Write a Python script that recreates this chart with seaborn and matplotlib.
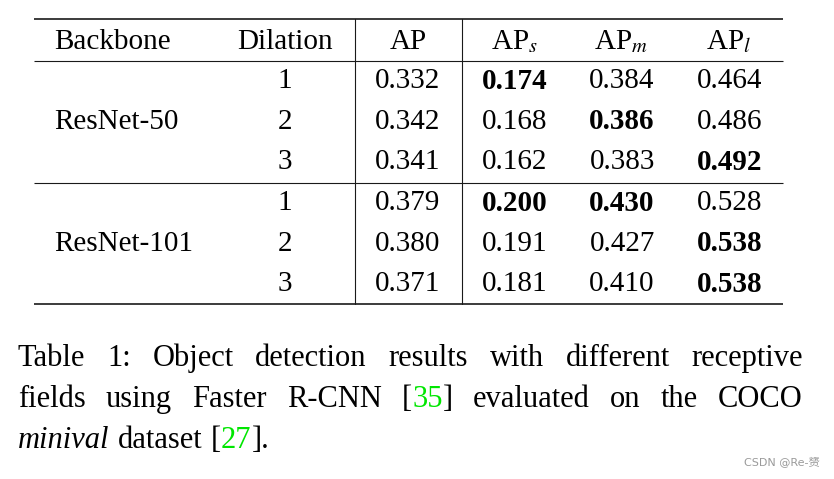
import numpy as np
import pandas as pd
import matplotlib
matplotlib.use("Agg")
import matplotlib.pyplot as plt
from matplotlib.colors import ListedColormap
import seaborn as sns

# ---- data ----
backbones = ["ResNet-50", "ResNet-101"]
dilations = [1, 2, 3]
columns = ["AP", "AP$_s$", "AP$_m$", "AP$_l$"]
r50_values = [[0.332, 0.174, 0.384, 0.464],
              [0.342, 0.168, 0.386, 0.486],
              [0.341, 0.162, 0.383, 0.492]]
r101_values = [[0.379, 0.200, 0.430, 0.528],
               [0.380, 0.191, 0.427, 0.538],
               [0.371, 0.181, 0.410, 0.538]]
bold_cells = [[0, 1, 0, 0],
              [0, 0, 1, 0],
              [0, 0, 0, 1],
              [0, 1, 1, 0],
              [0, 0, 0, 1],
              [0, 0, 0, 1]]
caption_lines = [
    [[("Table", "n")], [("1:", "n")], [("Object", "n")], [("detection", "n")], [("results", "n")],
     [("with", "n")], [("different", "n")], [("receptive", "n")]],
    [[("fields", "n")], [("using", "n")], [("Faster", "n")], [("R-CNN", "n")],
     [("[", "n"), ("35", "g"), ("]", "n")], [("evaluated", "n")], [("on", "n")], [("the", "n")], [("COCO", "n")]],
    [[("minival", "i")], [("dataset", "n")], [("[", "n"), ("27", "g"), ("].", "n")]],
]
watermark = "CSDN @Re-赟"

sns.set_theme(style="white")
plt.rcParams["font.family"] = ["Liberation Serif", "DejaVu Serif"]
plt.rcParams["mathtext.fontset"] = "stix"
plt.rcParams["text.color"] = "black"

W, H = 834, 479
fig = plt.figure(figsize=(W / 100, H / 100), dpi=100)
fig.patch.set_facecolor("white")

FS = 21
df = pd.DataFrame(r50_values + r101_values, columns=columns)

# numeric block via seaborn heatmap
x0, x1 = 354, 783
y0, y1 = 61, 304.5
hm_ax = fig.add_axes([x0 / W, 1 - y1 / H, (x1 - x0) / W, (y1 - y0) / H])
sns.heatmap(df, ax=hm_ax, cmap=ListedColormap(["white"]), cbar=False, annot=True, fmt=".3f",
            annot_kws=dict(fontsize=FS, color="black", family="Liberation Serif"))
hm_ax.set_xticks([]); hm_ax.set_yticks([])
hm_ax.set_xlabel(""); hm_ax.set_ylabel("")
for sp in hm_ax.spines.values():
    sp.set_visible(False)
flat_bold = [b for row in bold_cells for b in row]
for t, b in zip(hm_ax.texts, flat_bold):
    if b:
        t.set_fontweight("bold")

# overlay axes in pixel coordinates
ax = fig.add_axes([0, 0, 1, 1])
ax.set_xlim(0, W); ax.set_ylim(H, 0)
ax.axis("off")
ax.patch.set_alpha(0)

lc = "#1a1a1a"
ax.plot([34, 783], [18.5, 18.5], color=lc, lw=1.2, solid_capstyle="butt")
ax.plot([34, 783], [60.5, 60.5], color=lc, lw=0.8, solid_capstyle="butt")
ax.plot([34, 783], [182.5, 182.5], color=lc, lw=0.8, solid_capstyle="butt")
ax.plot([34, 783], [304, 304], color=lc, lw=1.2, solid_capstyle="butt")
ax.plot([355, 355], [18.5, 304], color=lc, lw=0.8)
ax.plot([462, 462], [18.5, 304], color=lc, lw=0.8)

# header
hy = 42
ax.text(54, hy, "Backbone", fontsize=FS, ha="left", va="center")
ax.text(285, hy, "Dilation", fontsize=FS, ha="center", va="center")
col_cx = [408, 514.5, 621.5, 728.5]
for cx, c in zip(col_cx, columns):
    ax.text(cx, hy, c, fontsize=FS, ha="center", va="center")

row_h = (y1 - y0) / 6
for g, bb in enumerate(backbones):
    for i, d in enumerate(dilations):
        ry = y0 + row_h * (g * 3 + i + 0.5)
        ax.text(285, ry, str(d), fontsize=FS, ha="center", va="center")
    gy = y0 + row_h * (g * 3 + 1.5)
    ax.text(54, gy, bb, fontsize=FS, ha="left", va="center")

# caption, justified
CFS = 22
fig.canvas.draw()
renderer = fig.canvas.get_renderer()
green = "#00e600"
left, right = 18, 803
baselines = [366, 407, 448]

def seg_kwargs(style):
    kw = dict(fontsize=CFS, va="baseline", ha="left")
    if style == "i":
        kw["fontstyle"] = "italic"
    kw["color"] = green if style == "g" else "black"
    return kw

def width_of(s, style):
    t = ax.text(0, 0, s, **seg_kwargs(style))
    bb = t.get_window_extent(renderer=renderer)
    t.remove()
    return bb.width

space_w = width_of("a b", "n") - width_of("ab", "n")
for li, words in enumerate(caption_lines):
    wwidths = [[width_of(s, st) for s, st in w] for w in words]
    totals = [sum(ws) for ws in wwidths]
    if li < len(caption_lines) - 1:
        gap = (right - left - sum(totals)) / (len(words) - 1)
    else:
        gap = space_w * 1.1
    x = left
    for w, ws in zip(words, wwidths):
        for (s, st), sw in zip(w, ws):
            ax.text(x, baselines[li], s, **seg_kwargs(st))
            x += sw
        x += gap

ax.text(820, 463, watermark, fontsize=8, color="#9a9a9a", ha="right", va="center",
        family=["DejaVu Sans", "Noto Sans CJK SC"])

fig.savefig("out.png", dpi=100, facecolor="white")
